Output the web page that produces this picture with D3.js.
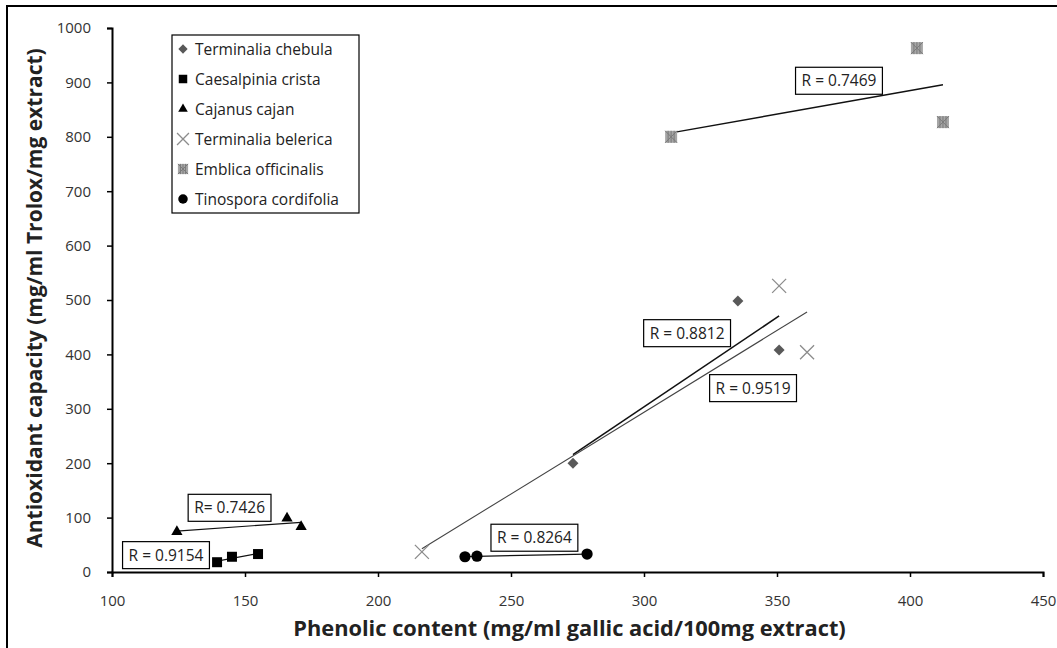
<!DOCTYPE html>
<html>
<head>
<meta charset="utf-8">
<script src="https://cdn.jsdelivr.net/npm/d3@7/dist/d3.min.js"></script>
<style>
  html, body { margin: 0; padding: 0; background: #fff; }
  svg { display: block; font-family: "Open Sans", Lato, sans-serif; }
</style>
</head>
<body>
<div id="chart"></div>
<script>
// series: [phenolic content, antioxidant capacity]
const chebula = [[273.3, 200], [335.3, 498], [350.8, 408]];
const caesalpinia = [[139.5, 18], [145.1, 28], [154.9, 33]];
const cajanus = [[124.4, 74], [165.8, 99], [171.1, 83]];
const belerica = [[216.5, 37], [350.8, 526], [361.3, 404]];
const emblica = [[310.2, 800], [402.6, 963], [412.4, 827]];
const tinospora = [[232.7, 28], [237.2, 29], [278.6, 33]];

const seriesNames = ['Terminalia chebula', 'Caesalpinia crista', 'Cajanus cajan',
  'Terminalia belerica', 'Emblica officinalis', 'Tinospora cordifolia'];
const seriesData = [chebula, caesalpinia, cajanus, belerica, emblica, tinospora];

// R labels: text and where the box sits (in data units)
const rTexts = ['R = 0.8812', 'R = 0.9154', 'R= 0.7426', 'R = 0.9519', 'R = 0.7469', 'R = 0.8264'];
const rAt = [[316.2, 439], [120.3, 31], [144.2, 118], [341, 338], [373.3, 903], [258.8, 63]];

const xTicks = d3.range(100, 451, 50);
const yTicks = d3.range(0, 1001, 100);
const xTitle = 'Phenolic content (mg/ml gallic acid/100mg extract)';
const yTitle = 'Antioxidant capacity (mg/ml Trolox/mg extract)';

const width = 1057, height = 648;
const margin = { top: 28, right: 14, bottom: 76, left: 112 };

const svg = d3.select('#chart').append('svg')
  .attr('width', width)
  .attr('height', height);

// 外框
svg.append('rect')
  .attr('x', 7).attr('y', 6)
  .attr('width', width + 20).attr('height', height + 20)
  .attr('fill', 'none').attr('stroke', '#000').attr('stroke-width', 2);

const x = d3.scaleLinear().domain([100, 450]).range([margin.left, width - margin.right]);
const y = d3.scaleLinear().domain([0, 1000]).range([height - margin.bottom, margin.top]);

// axes
const gx = svg.append('g')
  .attr('transform', `translate(0, ${y(0)})`)
  .call(d3.axisBottom(x).tickValues(xTicks).tickFormat(d3.format('d'))
    .tickSize(5).tickSizeOuter(5).tickPadding(18));
const gy = svg.append('g')
  .attr('transform', `translate(${x(100)}, 0)`)
  .call(d3.axisLeft(y).tickValues(yTicks).tickFormat(d3.format('d'))
    .tickSize(5).tickSizeOuter(5).tickPadding(16));
[gx, gy].forEach(g => {
  g.select('.domain').attr('stroke', '#000').attr('stroke-width', 2);
  g.selectAll('.tick line').attr('stroke', '#000').attr('stroke-width', 1.5);
  g.selectAll('.tick text').attr('font-size', '15px').attr('fill', '#333')
    .attr('font-family', '"Open Sans", sans-serif');
});

svg.append('text')
  .attr('x', (x(100) + x(450)) / 2 - 8)
  .attr('y', 636)
  .attr('text-anchor', 'middle')
  .attr('font-size', '21.8px')
  .attr('font-weight', 'bold')
  .attr('fill', '#222')
  .text(xTitle);

svg.append('text')
  .attr('transform', `translate(42, ${(y(0) + y(1000)) / 2 - 2}) rotate(-90)`)
  .attr('text-anchor', 'middle')
  .attr('font-size', '21px')
  .attr('font-weight', 'bold')
  .attr('fill', '#222')
  .text(yTitle);

// 标记形状
function drawMarker(g, i, s) {
  if (i === 0) {
    g.append('path').attr('d', d3.symbol(d3.symbolSquare, 60 * s * s)())
      .attr('transform', 'rotate(45)').attr('fill', '#595959');
  } else if (i === 1) {
    g.append('path').attr('d', d3.symbol(d3.symbolSquare, 100 * s * s)()).attr('fill', '#000');
  } else if (i === 2) {
    g.append('path').attr('d', d3.symbol(d3.symbolTriangle, 55 * s * s)()).attr('fill', '#000');
  } else if (i === 3) {
    const h = 7 * s;
    g.append('path').attr('d', `M${-h},${-h}L${h},${h}M${-h},${h}L${h},${-h}`)
      .attr('stroke', '#8c8c8c').attr('stroke-width', 1.3).attr('fill', 'none');
  } else if (i === 4) {
    const h = 6 * s;
    g.append('rect').attr('x', -h).attr('y', -h).attr('width', 2 * h).attr('height', 2 * h)
      .attr('fill', '#a6a6a6');
    g.append('path').attr('d', `M${-h},${-h}L${h},${h}M${-h},${h}L${h},${-h}M0,${-h}L0,${h}M${-h * 0.5},${-h}L${-h * 0.5},${h}M${h * 0.5},${-h}L${h * 0.5},${h}`)
      .attr('stroke', '#7a7a7a').attr('stroke-width', 1).attr('fill', 'none');
  } else {
    g.append('circle').attr('r', 5.6 * s).attr('fill', '#000');
  }
}

// trend lines (least squares)
const lineStyle = [
  { c: '#111', w: 1.6 }, { c: '#111', w: 1.2 }, { c: '#111', w: 1.2 },
  { c: '#444', w: 1.1 }, { c: '#111', w: 1.4 }, { c: '#111', w: 1.2 }
];
seriesData.forEach((pts, i) => {
  const mx = d3.mean(pts, d => d[0]), my = d3.mean(pts, d => d[1]);
  const sxy = d3.sum(pts, d => (d[0] - mx) * (d[1] - my));
  const sxx = d3.sum(pts, d => (d[0] - mx) ** 2);
  const b = sxy / sxx, a = my - b * mx;
  const [x0, x1] = d3.extent(pts, d => d[0]);
  svg.append('line')
    .attr('x1', x(x0)).attr('y1', y(a + b * x0))
    .attr('x2', x(x1)).attr('y2', y(a + b * x1))
    .attr('stroke', lineStyle[i].c).attr('stroke-width', lineStyle[i].w);
});

// 数据点
seriesData.forEach((pts, i) => {
  pts.forEach(p => {
    const g = svg.append('g').attr('transform', `translate(${x(p[0])}, ${y(p[1])})`);
    drawMarker(g, i, 1);
  });
});

// R labels
rTexts.forEach((t, i) => {
  const g = svg.append('g').attr('transform', `translate(${x(rAt[i][0])}, ${y(rAt[i][1])})`);
  const rect = g.append('rect').attr('fill', '#fff').attr('stroke', '#000').attr('stroke-width', 1.2);
  const txt = g.append('text')
    .attr('text-anchor', 'middle')
    .attr('dy', '0.36em')
    .attr('font-size', '15.5px')
    .attr('fill', '#222')
    .text(t);
  const w = txt.node().getComputedTextLength() + 12;
  rect.attr('x', -w / 2).attr('y', -13.5).attr('width', w).attr('height', 27);
});

// legend
const legend = svg.append('g').attr('transform', 'translate(172, 35)');
legend.append('rect')
  .attr('width', 187).attr('height', 178)
  .attr('fill', '#fff').attr('stroke', '#000').attr('stroke-width', 1.2);
seriesNames.forEach((name, i) => {
  const row = legend.append('g').attr('transform', `translate(0, ${14 + i * 30})`);
  const m = row.append('g').attr('transform', 'translate(11, 0)');
  drawMarker(m, i, 0.85);
  row.append('text')
    .attr('x', 23)
    .attr('dy', '0.36em')
    .attr('font-size', '15.5px')
    .attr('fill', '#222')
    .text(name);
});
</script>
</body>
</html>
